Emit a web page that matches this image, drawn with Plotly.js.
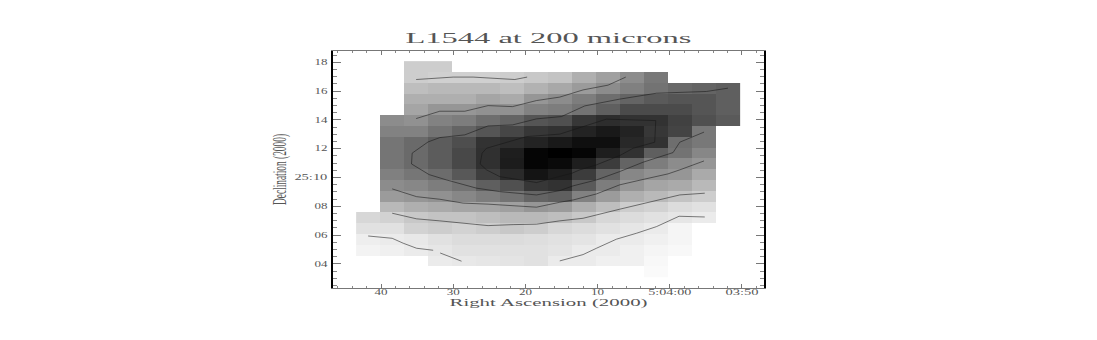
<!DOCTYPE html>
<html><head><meta charset="utf-8">
<script src="https://cdn.plot.ly/plotly-3.0.1.min.js"></script>
<style>html,body{margin:0;padding:0;background:#fff}</style></head>
<body><div id="chart" style="width:1097px;height:340px"></div>
<script>
// RA seconds past 5:04:00, Dec arcmin past 25:00
const raCells=[41.79,38.46,35.14,31.82,28.49,25.17,21.85,18.52,15.2,11.87,8.55,5.23,1.9,-1.42,-4.74,-8.07];
const decCells=[17.7,16.95,16.2,15.45,14.7,13.95,13.2,12.45,11.7,10.95,10.2,9.45,8.7,7.95,7.2,6.45,5.7,4.95,4.2,3.45];
const _=null;
const flux=[
[_,_,205,205,_,_,_,_,_,_,_,_,_,_,_,_],
[_,_,205,208,208,208,205,200,195,175,160,140,120,_,_,_],
[_,_,190,185,185,185,190,178,168,155,140,128,115,105,100,95],
[_,_,175,175,175,165,170,150,140,125,110,100,90,85,85,95],
[_,_,165,150,150,145,145,130,125,115,95,75,75,75,85,95],
[_,140,145,130,125,110,100,85,80,55,45,50,50,65,80,90],
[_,130,130,115,100,85,70,55,50,35,25,35,55,68,120,_],
[_,117,106,92,78,50,45,35,25,15,15,40,50,110,120,_],
[_,117,106,92,72,48,30,5,0,5,30,50,95,115,135,_],
[_,117,106,92,72,48,28,5,10,30,60,100,125,140,150,_],
[_,128,118,108,88,62,42,20,30,60,100,135,145,150,170,_],
[_,140,135,125,115,95,80,55,50,90,125,150,165,170,185,_],
[_,155,150,145,135,125,115,100,95,130,155,175,185,195,205,_],
[_,185,175,170,165,165,160,150,155,175,190,205,210,220,225,_],
[215,210,200,195,195,190,185,185,190,200,215,220,225,230,235,_],
[225,225,210,205,210,205,200,205,215,220,225,230,235,245,_,_],
[238,235,232,225,220,220,220,222,225,228,235,235,240,245,_,_],
[243,240,235,230,225,225,225,225,228,235,235,240,245,248,_,_],
[_,_,_,235,232,230,228,225,235,235,240,240,248,_,_,_],
[_,_,_,_,_,_,_,_,_,_,_,_,250,_,_,_]
];
const contourA={x:[35.14,32.78,30.01,27.24,23.55,21.47,19.76],y:[16.8,16.9,16.97,16.97,16.85,16.8,16.97]};
const contourB={x:[35.14,31.86,28.39,25.17,21.79,18.46,15.24,12.01,8.55,6.09],y:[14.09,14.6,14.6,14.99,14.92,15.34,15.58,16.08,16.41,16.97]};
const contourC={x:[-8.07,-5.08,1.84,6.93,11.77,15,18.46,21.79,25.17,28.39,31.86,33.48,35.69,35.78,33.34,30.93,26.77,23.55,18.46,15.24,13.39,10.15,6.93,3.7,-0.46,-1.39,-4.75],
 y:[16.2,15.97,15.85,15.44,14.97,14.23,14.07,13.65,13.58,12.96,12.77,12.47,11.69,10.94,10.2,9.83,9.26,9.02,8.79,9.09,9.42,9.83,10.41,11.06,11.73,12.45,13.15]};
const contourD={x:[1.94,8.77,13.39,15.24,19.85,23.09,25.39,26,26.27,25.39,23.55,18.46,15.24,13.53,12.47,10.15,6.93,5.08,2.08,1.94],
 y:[13.95,14.05,13.31,13.01,12.84,12.38,12.03,11.69,10.94,10.53,10.06,9.65,10.06,10.3,10.53,10.88,11.52,12.03,12.45,13.95]};
const contourE={x:[38.46,35.08,31.86,28.63,25.17,21.7,18.46,15.24,13.39,10.15,6.93,3.56,0.24,-1.39,-4.75],y:[9.21,8.67,8.49,8.22,8.15,8.05,7.94,8.28,8.44,8.86,9.49,9.88,10.25,10.53,11.15]};
const contourF={x:[38.46,35.08,31.86,28.63,25.17,21.7,18.46,15.24,12.01,6.93,1.84,-1.39,-4.85],y:[7.52,7.13,6.99,6.83,6.66,6.73,6.76,6.99,7.17,7.8,8.4,8.79,8.91]};
const contourG={x:[15.24,12.01,10.15,7.38,4.61,1.84,-1.29,-4.85],y:[4.21,4.65,5.09,5.72,6.13,6.59,7.31,7.26]};
const contourH={x:[41.79,38.46,36.94,35.08,32.78],y:[5.94,5.78,5.44,5.09,4.95]};
const contourI={x:[31.81,28.85],y:[4.76,4.19]};
const contours=[contourA,contourB,contourC,contourD,contourE,contourF,contourG,contourH,contourI];
const xTickVals=[40,30,20,10,0,-10];
const xTickText=['40','30','20','10','5:04:00','03:50'];
const yTickVals=[4,6,8,10,12,14,16,18];
const yTickText=['04','06','08','25:10','12','14','16','18'];

const traces=[{type:'heatmap',x:raCells,y:decCells,z:flux,zmin:0,zmax:255,zsmooth:false,
  colorscale:[[0,'#000'],[1,'#fff']],showscale:false,hoverinfo:'skip'}];
contours.forEach(c=>traces.push({type:'scatter',mode:'lines',x:c.x,y:c.y,showlegend:false,hoverinfo:'skip',
  line:{color:'rgba(20,20,20,0.6)',width:0.9,shape:'linear'}}));
const serif='"Liberation Serif",serif';
const layout={width:1097,height:340,margin:{l:333,r:333,t:51,b:52},paper_bgcolor:'#fff',plot_bgcolor:'#fff',showlegend:false,
 title:{text:'L1544 at 200 microns',x:0.5,xanchor:'center',y:0.887,yanchor:'middle',font:{family:serif,size:14,color:'#555'}},
 xaxis:{range:[46.66,-13.06],tickmode:'array',tickvals:xTickVals,ticktext:xTickText,ticks:'inside',ticklen:4,tickwidth:1,tickcolor:'#777',
  showgrid:false,zeroline:false,showline:true,linecolor:'#777',linewidth:1,mirror:'ticks',
  minor:{ticks:'inside',ticklen:2,dtick:2,tick0:0,tickcolor:'#888',tickwidth:1,showgrid:false},
  tickfont:{family:serif,size:8,color:'#555'},ticklabelstandoff:-4,
  title:{text:'Right Ascension (2000)',standoff:2,font:{family:serif,size:10,color:'#555'}}},
 yaxis:{range:[2.33,18.78],tickmode:'array',tickvals:yTickVals,ticktext:yTickText,ticks:'inside',ticklen:8,tickwidth:1,tickcolor:'#777',
  showgrid:false,zeroline:false,showline:true,linecolor:'#000',linewidth:2,mirror:'ticks',
  minor:{ticks:'inside',ticklen:4,dtick:0.5,tick0:0,tickcolor:'#888',tickwidth:1,showgrid:false},
  tickfont:{family:serif,size:8,color:'#555'},ticklabelstandoff:2,
  title:{text:'Declination (2000)',standoff:18,font:{family:serif,size:19,color:'#555'}}}
};
Plotly.newPlot('chart',traces,layout,{displayModeBar:false,staticPlot:true}).then(gd=>{
 const fit=(sel,len)=>gd.querySelectorAll(sel).forEach(t=>{t.setAttribute('textLength',len);t.setAttribute('lengthAdjust','spacingAndGlyphs');});
 fit('.gtitle',286);fit('.xtitle',198);fit('.ytitle',71);
 gd.querySelectorAll('.xtick text, .ytick text').forEach(t=>{
  const n=t.textContent.length; t.setAttribute('textLength',n<=2?13:(n<=5?33:43)); t.setAttribute('lengthAdjust','spacingAndGlyphs');});
});
</script></body></html>
